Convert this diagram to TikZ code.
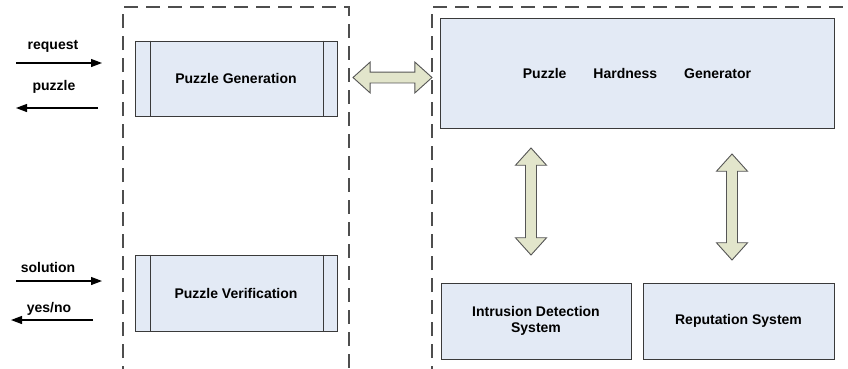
\documentclass[tikz,border=0pt]{standalone}
\usepackage{fontspec}
\setmainfont{Liberation Sans}
\usetikzlibrary{shapes.arrows,arrows.meta}
\definecolor{boxfill}{HTML}{E3EAF5}
\definecolor{boxline}{HTML}{3A3A3A}
\definecolor{arrfill}{HTML}{E2E5CB}
\definecolor{arrline}{HTML}{555555}
\begin{document}
\begin{tikzpicture}[x=1pt,y=-1pt,
  blockbox/.style={draw=boxline,line width=0.9pt,fill=boxfill,inner sep=0pt,font=\bfseries\fontsize{14}{16.5}\selectfont,align=center},
  fatarrow/.style={double arrow,draw=arrline,line width=0.9pt,fill=arrfill,inner sep=5pt,double arrow head extend=10pt,double arrow tip angle=84,double arrow head indent=0pt},
  lbl/.style={font=\bfseries\fontsize{14}{16}\selectfont,inner sep=0pt},
  thinarr/.style={draw=black,line width=1.2pt,-{Triangle[length=11pt,width=8pt]}},
  dashbox/.style={draw=boxline!90,line width=1.1pt,dash pattern=on 14pt off 8pt}]
\useasboundingbox (0,0) rectangle (848,368);
\fill[white] (0,0) rectangle (848,368);
\clip (0,0) rectangle (848,368);
% dashed containers
\draw[dashbox] (123,380) -- (123,7) -- (349,7) -- (349,380);
\draw[dashbox] (432,380) -- (432,7) -- (860,7);
% boxes
\node[blockbox,minimum width=202pt,minimum height=75pt] (pg) at (236,78.5) {Puzzle Generation};
\draw[boxline,line width=0.9pt] ([xshift=16pt]pg.north west) -- ([xshift=16pt]pg.south west)
  ([xshift=-14pt]pg.north east) -- ([xshift=-14pt]pg.south east);
\node[blockbox,minimum width=202pt,minimum height=76pt] (pv) at (236,293) {Puzzle Verification};
\draw[boxline,line width=0.9pt] ([xshift=16pt]pv.north west) -- ([xshift=16pt]pv.south west)
  ([xshift=-14pt]pv.north east) -- ([xshift=-14pt]pv.south east);
\node[blockbox,minimum width=394pt,minimum height=110pt] (phg) at (637,73) {Puzzle\hspace{27pt}Hardness\hspace{27pt}Generator};
\node[blockbox,minimum width=190pt,minimum height=76pt] (ids) at (536,321) {Intrusion Detection\\System};
\node[blockbox,minimum width=191pt,minimum height=76pt] (rep) at (738.5,321) {Reputation System};
% fat arrows
\node[fatarrow,minimum height=79pt,minimum width=29pt] (h1) at (392.5,77.5) {};
\node[fatarrow,rotate=90,minimum height=107pt,minimum width=31pt] (v1) at (531,201.5) {};
\node[fatarrow,rotate=90,minimum height=106pt,minimum width=31pt] (v2) at (732,207) {};
% thin arrows
\coordinate (r0) at (16,63);
\coordinate (r1) at (102,63);
\coordinate (p0) at (98,108);
\coordinate (p1) at (16,108);
\coordinate (s0) at (16,281);
\coordinate (s1) at (102,281);
\coordinate (y0) at (93,320);
\coordinate (y1) at (11,320);
\draw[thinarr] (r0) -- (r1);
\draw[thinarr] (p0) -- (p1);
\draw[thinarr] (s0) -- (s1);
\draw[thinarr] (y0) -- (y1);
\node[lbl] (lr) at (53,46) {request};
\node[lbl] (lp) at (54,87) {puzzle};
\node[lbl] (ls) at (48,267) {solution};
\node[lbl] (ly) at (49,309) {yes/no};
\end{tikzpicture}
\end{document}
